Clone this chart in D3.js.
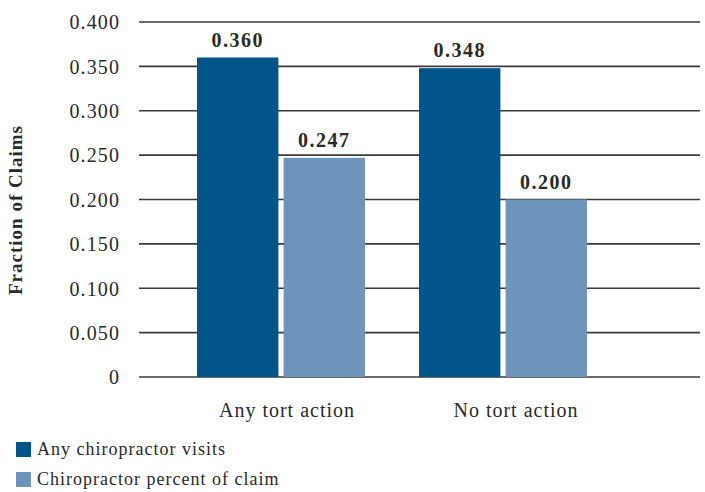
<!DOCTYPE html>
<html>
<head>
<meta charset="utf-8">
<script src="https://cdn.jsdelivr.net/npm/d3@7"></script>
<style>
  html, body { margin: 0; padding: 0; background: #fff; }
  svg { display: block; }
  svg text { font-family: "Liberation Serif", "Times New Roman", serif; fill: #2a2a2a; }
</style>
</head>
<body>
<svg id="chart" width="705" height="492"></svg>
<script>
const categories = ["Any tort action", "No tort action"];
const seriesNames = ["Any chiropractor visits", "Chiropractor percent of claim"];
const anyChiroVisits = [0.360, 0.348];
const chiroPercentOfClaim = [0.247, 0.200];
const yTicks = [0, 0.05, 0.10, 0.15, 0.20, 0.25, 0.30, 0.35, 0.40];
const colors = ["#02558B", "#6D94BB"];

const seriesValues = [anyChiroVisits, chiroPercentOfClaim];
const svg = d3.select("#chart");

const y = d3.scaleLinear().domain([0, 0.4]).range([377, 22]);
const x0 = d3.scaleBand().domain(categories).range([170, 614]).padding(0);
const x1 = d3.scaleBand().domain(seriesNames).range([27, 195]).paddingInner(0.06);

// gridlines
svg.append("g").selectAll("line").data(yTicks).join("line")
  .attr("x1", 139).attr("x2", 700)
  .attr("y1", d => y(d)).attr("y2", d => y(d))
  .attr("stroke", "#3a3a3a").attr("stroke-width", 1.6);

// y axis labels
const yAxis = d3.axisLeft(y).tickValues(yTicks)
  .tickFormat(d => d === 0 ? "0" : d3.format(".3f")(d)).tickSize(0).tickPadding(0);
const yg = svg.append("g").attr("transform", "translate(120,0)").call(yAxis);
yg.select(".domain").remove();
yg.attr("font-family", null);
yg.selectAll("text").attr("font-size", 20).attr("letter-spacing", 1.1).attr("dy", "0.34em");

// bars
const groups = svg.append("g").selectAll("g").data(categories).join("g")
  .attr("transform", d => `translate(${x0(d)},0)`);
groups.selectAll("rect").data((c, i) => seriesNames.map((s, k) => ({s, k, v: seriesValues[k][i]})))
  .join("rect")
  .attr("x", d => x1(d.s)).attr("width", x1.bandwidth())
  .attr("y", d => y(d.v)).attr("height", d => y(0) - y(d.v))
  .attr("fill", d => colors[d.k]);
groups.selectAll("text.val").data((c, i) => seriesNames.map((s, k) => ({s, k, v: seriesValues[k][i]})))
  .join("text").attr("class", "val")
  .attr("x", d => x1(d.s) + x1.bandwidth() / 2)
  .attr("y", d => y(d.v) - 11)
  .attr("text-anchor", "middle").attr("font-weight", "bold")
  .attr("font-size", 20).attr("letter-spacing", 1.5)
  .text(d => d3.format(".3f")(d.v));

// x axis labels
const xAxis = d3.axisBottom(x0).tickSize(0).tickPadding(0);
const xg = svg.append("g").attr("transform", "translate(0,403)").call(xAxis);
xg.select(".domain").remove();
xg.attr("font-family", null);
xg.selectAll("text").attr("font-size", 20).attr("letter-spacing", 1)
  .attr("dx", (d, i) => i === 0 ? 6 : 13);

// y axis title
svg.append("text")
  .attr("transform", "translate(22,210) rotate(-90)")
  .attr("text-anchor", "middle").attr("font-weight", "bold")
  .attr("font-size", 19).attr("letter-spacing", 1)
  .text("Fraction of Claims");

// legend
const lg = svg.append("g").selectAll("g").data(seriesNames).join("g")
  .attr("transform", (d, i) => `translate(16,${442 + i * 30})`);
lg.append("rect").attr("width", 15).attr("height", 15).attr("fill", (d, i) => colors[i]);
lg.append("text").attr("x", 21).attr("y", 13).attr("font-size", 18).attr("letter-spacing", 1)
  .text(d => d);
</script>
</body>
</html>
